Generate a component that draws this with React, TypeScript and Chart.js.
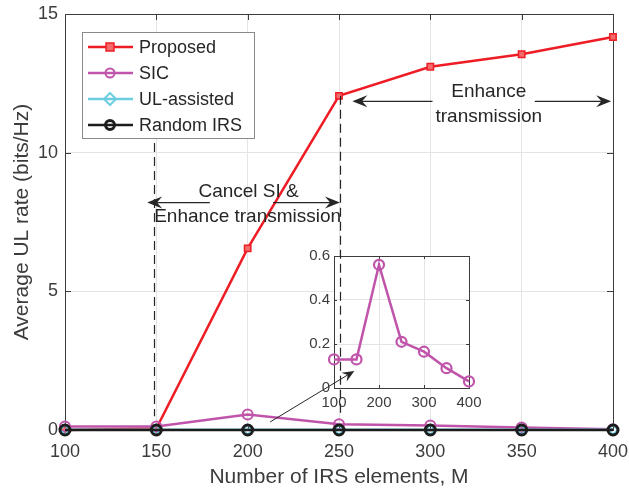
import React, { useEffect, useRef } from "react";
import { Chart, registerables } from "chart.js";

Chart.register(...registerables);

// Number of IRS elements M
const elements = [100, 150, 200, 250, 300, 350, 400];
// Average UL rate (bits/Hz) per scheme
const proposedRate = [0.0, 0.05, 6.55, 12.05, 13.1, 13.55, 14.17];
const sicRate = [0.13, 0.13, 0.56, 0.21, 0.165, 0.09, 0.03];
const ulAssistedRate = [0.01, 0.01, 0.01, 0.01, 0.01, 0.01, 0.01];
const randomIrsRate = [0.0, 0.0, 0.0, 0.0, 0.0, 0.0, 0.0];

const xTicks = [100, 150, 200, 250, 300, 350, 400];
const yTicks = [0, 5, 10, 15];
const insetXTicks = [100, 200, 300, 400];
const insetYTicks = [0, 0.2, 0.4, 0.6];

const seriesLabels = ["Proposed", "SIC", "UL-assisted", "Random IRS"];

const FONT = '"Liberation Sans", Arial, Helvetica, sans-serif';
const RED = "#ee1d25";
const MAGENTA = "#c054ab";
const CYAN = "#6dcde0";
const BLACK = "#1c1c1c";
const TEXT = "#3c3c3c";
const AXIS = "#3c3c3c";
const GRID = "#e4e4e4";

function arrowHead(ctx: CanvasRenderingContext2D, x0: number, y0: number, x1: number, y1: number, len: number, half: number) {
  const a = Math.atan2(y1 - y0, x1 - x0);
  const c = Math.cos(a);
  const s = Math.sin(a);
  const bx = x1 - len * c;
  const by = y1 - len * s;
  const nx = x1 - len * 0.65 * c;
  const ny = y1 - len * 0.65 * s;
  ctx.beginPath();
  ctx.moveTo(x1, y1);
  ctx.lineTo(bx - half * s, by + half * c);
  ctx.lineTo(nx, ny);
  ctx.lineTo(bx + half * s, by - half * c);
  ctx.closePath();
  ctx.fill();
}

function arrow(ctx: CanvasRenderingContext2D, x0: number, y0: number, x1: number, y1: number, len: number, half: number) {
  const a = Math.atan2(y1 - y0, x1 - x0);
  ctx.beginPath();
  ctx.moveTo(x0, y0);
  ctx.lineTo(x1 - len * 0.6 * Math.cos(a), y1 - len * 0.6 * Math.sin(a));
  ctx.stroke();
  arrowHead(ctx, x0, y0, x1, y1, len, half);
}

function frameAndTicks(chart: any, tickLen: number) {
  const { ctx, chartArea } = chart;
  const { left, right, top, bottom } = chartArea;
  const xs = chart.scales.x;
  const ys = chart.scales.y;
  ctx.save();
  ctx.strokeStyle = AXIS;
  ctx.lineWidth = 1;
  ctx.strokeRect(Math.round(left) + 0.5, Math.round(top) + 0.5, Math.round(right - left), Math.round(bottom - top));
  ctx.beginPath();
  xs.ticks.forEach((t: any) => {
    const px = Math.round(xs.getPixelForValue(t.value)) + 0.5;
    ctx.moveTo(px, bottom);
    ctx.lineTo(px, bottom - tickLen);
    ctx.moveTo(px, top);
    ctx.lineTo(px, top + tickLen);
  });
  ys.ticks.forEach((t: any) => {
    const py = Math.round(ys.getPixelForValue(t.value)) + 0.5;
    ctx.moveTo(left, py);
    ctx.lineTo(left + tickLen, py);
    ctx.moveTo(right, py);
    ctx.lineTo(right - tickLen, py);
  });
  ctx.stroke();
  ctx.restore();
}

function makeDataset(label: string, values: number[], color: string, style: string, radius: number, fill: string, pointBorder: number, order: number) {
  return {
    label,
    data: elements.map((m, i) => ({ x: m, y: values[i] })),
    borderColor: color,
    backgroundColor: color,
    borderWidth: 2.5,
    pointStyle: style,
    pointRadius: radius,
    pointBorderWidth: pointBorder,
    pointBorderColor: color,
    pointBackgroundColor: fill,
    tension: 0,
    clip: false as any,
    order,
  };
}

export default function App() {
  const mainRef = useRef<HTMLCanvasElement>(null);
  const insetRef = useRef<HTMLCanvasElement>(null);
  const overlayRef = useRef<HTMLCanvasElement>(null);

  useEffect(() => {
    if (!mainRef.current || !insetRef.current || !overlayRef.current) return;
    const overlay = overlayRef.current;

    const datasets = [
      makeDataset(seriesLabels[0], proposedRate, RED, "rect", 4.5, "#f56b6b", 1.5, 3),
      makeDataset(seriesLabels[1], sicRate, MAGENTA, "circle", 5, "rgba(255,255,255,0)", 2, 2),
      makeDataset(seriesLabels[2], ulAssistedRate, CYAN, "rectRot", 5, "rgba(255,255,255,0)", 2, 1),
      makeDataset(seriesLabels[3], randomIrsRate, BLACK, "circle", 5, "rgba(255,255,255,0)", 3, 0),
    ];

    const mainPlugin = {
      id: "mainDecor",
      beforeDatasetsDraw(chart: any) {
        frameAndTicks(chart, 6);
      },
      afterDraw(chart: any) {
        const ctx = chart.ctx as CanvasRenderingContext2D;
        // legend box
        ctx.save();
        ctx.fillStyle = "#ffffff";
        ctx.fillRect(82, 32, 172, 106);
        ctx.strokeStyle = "#8a8a8a";
        ctx.lineWidth = 1;
        ctx.strokeRect(82.5, 32.5, 172, 106);
        const rows = [47, 73, 99, 125];
        datasets.forEach((ds, i) => {
          const y = rows[i];
          ctx.strokeStyle = ds.borderColor;
          ctx.lineWidth = 2.5;
          ctx.beginPath();
          ctx.moveTo(88, y);
          ctx.lineTo(133, y);
          ctx.stroke();
          ctx.lineWidth = ds.pointBorderWidth;
          ctx.fillStyle = ds.pointBackgroundColor;
          ctx.beginPath();
          if (ds.pointStyle === "rect") {
            ctx.rect(110 - 4, y - 4, 8, 8);
          } else if (ds.pointStyle === "rectRot") {
            ctx.moveTo(110, y - 6);
            ctx.lineTo(116, y);
            ctx.lineTo(110, y + 6);
            ctx.lineTo(104, y);
            ctx.closePath();
          } else {
            ctx.arc(110, y, 4.5, 0, Math.PI * 2);
          }
          ctx.fill();
          ctx.stroke();
          ctx.fillStyle = "#262626";
          ctx.font = `18px ${FONT}`;
          ctx.textAlign = "left";
          ctx.textBaseline = "middle";
          ctx.fillText(ds.label, 139, y + 1);
        });
        ctx.restore();

        // annotations go on the top layer so they sit above the inset
        const xs = chart.scales.x;
        const ys = chart.scales.y;
        const X = (v: number) => xs.getPixelForValue(v);
        const Y = (v: number) => ys.getPixelForValue(v);
        const o = overlay.getContext("2d")!;
        o.clearRect(0, 0, overlay.width, overlay.height);
        o.save();
        o.strokeStyle = "#262626";
        o.fillStyle = "#262626";
        o.lineWidth = 1.2;
        o.setLineDash([9, 5]);
        o.beginPath();
        o.moveTo(Math.round(X(148.5)) + 0.5, Y(10.35));
        o.lineTo(Math.round(X(148.5)) + 0.5, Y(0.5));
        o.moveTo(Math.round(X(250.8)) + 0.5, Y(12.05));
        o.lineTo(Math.round(X(250.8)) + 0.5, Y(0.5));
        o.stroke();
        o.setLineDash([]);

        // "Cancel SI & Enhance transmission" double arrow
        arrow(o, X(179.3), Y(8.2), X(145), Y(8.2), 15, 6);
        arrow(o, X(213.9), Y(8.2), X(250.5), Y(8.2), 15, 6);
        // "Enhance transmission" double arrow
        arrow(o, X(301.2), Y(11.85), X(257.3), Y(11.85), 15, 6);
        arrow(o, X(357.2), Y(11.85), X(399), Y(11.85), 15, 6);
        // pointer to the zoomed SIC curve
        o.lineWidth = 1;
        arrow(o, X(212.3), Y(0.29), X(258.4), Y(2.13), 12, 5);

        o.font = `19px ${FONT}`;
        o.textAlign = "center";
        o.textBaseline = "middle";
        o.fillText("Cancel SI &", X(200.5), Y(8.6));
        o.fillText("Enhance transmission", X(200), Y(7.7));
        o.fillText("Enhance", X(332), Y(12.18));
        o.fillText("transmission", X(332), Y(11.31));
        o.restore();
      },
    };

    const main = new Chart(mainRef.current, {
      type: "line",
      data: { datasets: datasets as any },
      options: {
        animation: false,
        responsive: false,
        maintainAspectRatio: false,
        layout: { padding: { top: 14, right: 16, left: 0, bottom: 0 } },
        plugins: { legend: { display: false }, tooltip: { enabled: false } },
        scales: {
          x: {
            type: "linear",
            min: 100,
            max: 400,
            afterBuildTicks: (s: any) => {
              s.ticks = xTicks.map((v) => ({ value: v }));
            },
            afterFit: (s: any) => {
              s.height = 61;
              s.paddingLeft = 0;
              s.paddingRight = 0;
            },
            grid: { color: GRID, drawTicks: false, lineWidth: 1 },
            border: { display: false },
            ticks: { color: TEXT, padding: 11, font: { family: FONT, size: 18 }, maxRotation: 0 },
            title: {
              display: true,
              text: "Number of IRS elements, M",
              color: TEXT,
              font: { family: FONT, size: 21 },
              padding: { top: 0, bottom: 1 },
            },
          },
          y: {
            type: "linear",
            min: 0,
            max: 15,
            afterBuildTicks: (s: any) => {
              s.ticks = yTicks.map((v) => ({ value: v }));
            },
            afterFit: (s: any) => {
              s.width = 65;
              s.paddingTop = 0;
              s.paddingBottom = 0;
            },
            grid: { color: GRID, drawTicks: false, lineWidth: 1 },
            border: { display: false },
            ticks: { color: TEXT, padding: 7, font: { family: FONT, size: 18 } },
            title: {
              display: true,
              text: "Average UL rate (bits/Hz)",
              color: TEXT,
              font: { family: FONT, size: 21 },
              padding: { top: 10, bottom: 0 },
            },
          },
        },
      },
      plugins: [mainPlugin],
    });

    const insetPlugin = {
      id: "insetDecor",
      beforeDraw(chart: any) {
        const { ctx, chartArea } = chart;
        ctx.save();
        ctx.fillStyle = "#ffffff";
        ctx.fillRect(chartArea.left, chartArea.top, chartArea.right - chartArea.left, chartArea.bottom - chartArea.top);
        ctx.restore();
      },
      beforeDatasetsDraw(chart: any) {
        frameAndTicks(chart, 3);
      },
    };

    const inset = new Chart(insetRef.current, {
      type: "line",
      data: {
        datasets: [
          {
            label: seriesLabels[1],
            data: elements.map((m, i) => ({ x: m, y: sicRate[i] })),
            borderColor: MAGENTA,
            borderWidth: 2.5,
            pointStyle: "circle",
            pointRadius: 5,
            pointBorderWidth: 2.2,
            pointBorderColor: MAGENTA,
            pointBackgroundColor: "rgba(255,255,255,0)",
            tension: 0,
            clip: false as any,
          },
        ],
      },
      options: {
        animation: false,
        responsive: false,
        maintainAspectRatio: false,
        layout: { padding: { top: 16, right: 20, left: 0, bottom: 0 } },
        plugins: { legend: { display: false }, tooltip: { enabled: false } },
        scales: {
          x: {
            type: "linear",
            min: 100,
            max: 400,
            afterBuildTicks: (s: any) => {
              s.ticks = insetXTicks.map((v) => ({ value: v }));
            },
            afterFit: (s: any) => {
              s.height = 32;
              s.paddingLeft = 0;
              s.paddingRight = 0;
            },
            grid: { color: GRID, drawTicks: false },
            border: { display: false },
            ticks: { color: TEXT, padding: 6, font: { family: FONT, size: 15 }, maxRotation: 0 },
          },
          y: {
            type: "linear",
            min: 0,
            max: 0.6,
            afterBuildTicks: (s: any) => {
              s.ticks = insetYTicks.map((v) => ({ value: v }));
            },
            afterFit: (s: any) => {
              s.width = 44;
              s.paddingTop = 0;
              s.paddingBottom = 0;
            },
            grid: { color: GRID, drawTicks: false },
            border: { display: false },
            ticks: {
              color: TEXT,
              padding: 4,
              font: { family: FONT, size: 15 },
              callback: (v: any) => (Number(v) === 0 ? "0" : Number(v).toFixed(1)),
            },
          },
        },
      },
      plugins: [insetPlugin],
    });

    return () => {
      main.destroy();
      inset.destroy();
    };
  }, []);

  return (
    <div style={{ position: "fixed", left: 0, top: 0, width: 629, height: 491, background: "#ffffff" }}>
      <canvas ref={mainRef} width={629} height={491} style={{ position: "absolute", left: 0, top: 0 }} />
      <canvas ref={insetRef} width={199} height={180} style={{ position: "absolute", left: 290, top: 240 }} />
      <canvas
        ref={overlayRef}
        width={629}
        height={491}
        style={{ position: "absolute", left: 0, top: 0, pointerEvents: "none" }}
      />
    </div>
  );
}
